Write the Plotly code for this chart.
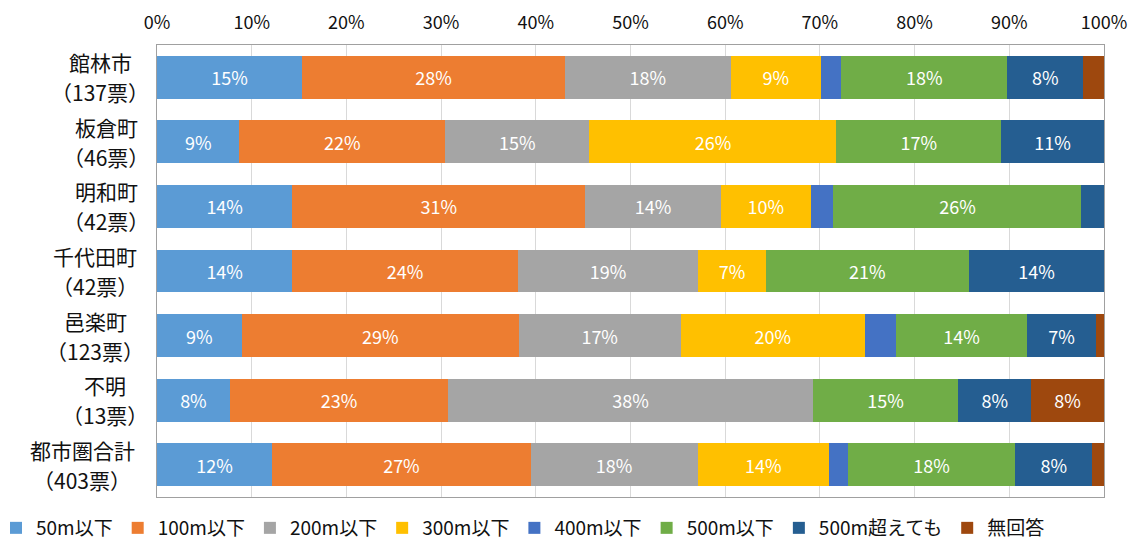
import plotly.graph_objects as go

# Categories (top to bottom) and vote counts shown in labels
areas = ["館林市", "板倉町", "明和町", "千代田町", "邑楽町", "不明", "都市圏合計"]
votes = ["137票", "46票", "42票", "42票", "123票", "13票", "403票"]

series_names = ["50m以下", "100m以下", "200m以下", "300m以下", "400m以下",
                "500m以下", "500m超えても", "無回答"]
colors = ["#5B9BD5", "#ED7D31", "#A5A5A5", "#FFC000", "#4472C4",
          "#70AD47", "#255E91", "#9E480E"]

# Percentages per series, one value per area (same order as `areas`)
s50 = [15.33, 8.70, 14.29, 14.29, 8.94, 7.69, 12.16]
s100 = [27.74, 21.74, 30.95, 23.81, 29.27, 23.08, 27.30]
s200 = [17.52, 15.22, 14.29, 19.05, 17.07, 38.46, 17.62]
s300 = [9.49, 26.09, 9.52, 7.14, 19.51, 0.0, 13.90]
s400 = [2.19, 0.0, 2.38, 0.0, 3.25, 0.0, 1.99]
s500 = [17.52, 17.39, 26.19, 21.43, 13.82, 15.38, 17.62]
s500over = [8.03, 10.87, 2.38, 14.29, 7.32, 7.69, 8.19]
s_none = [2.19, 0.0, 0.0, 0.0, 0.81, 7.69, 1.24]
series_values = [s50, s100, s200, s300, s400, s500, s500over, s_none]

x_ticks = [0, 10, 20, 30, 40, 50, 60, 70, 80, 90, 100]

# Layout geometry. The page body has an 8px margin, so the figure is
# sized to fit the 1136x541 window from (8, 8).
OFF = 8
W, H = 1136 - OFF, 541 - OFF
ML, MT = 157 - OFF, 45 - OFF
MR = W - (1104 - OFF)
MB = H - (497 - OFF)
PLOT_W = W - ML - MR
PLOT_H = H - MT - MB
label_center_px = [100, 106, 106, 95, 95, 105, 82]  # page x of each row label block centre
legend_left_px = -4       # page x of the legend box's left edge
legend_mid_px = 528       # page y of the legend row centre

FONT = "Noto Sans CJK JP"
TXT = "#111111"

fig = go.Figure()
for name, vals, col in zip(series_names, series_values, colors):
    labels = [f"{round(v)}%" if v >= 5 else "" for v in vals]
    fig.add_trace(go.Bar(
        name=name, y=areas, x=vals, orientation="h",
        marker=dict(color=col, line=dict(width=0)),
        text=labels, textposition="inside", insidetextanchor="middle",
        textfont=dict(color="white", size=18, family=FONT),
        hoverinfo="name+x",
    ))

for a, v, cx in zip(areas, votes, label_center_px):
    xp = (cx - OFF - ML) / PLOT_W
    fig.add_annotation(x=xp, xref="paper", y=a, yref="y", text=a,
                       showarrow=False, xanchor="center", yanchor="middle",
                       yshift=15, font=dict(size=21, family=FONT, color=TXT))
    fig.add_annotation(x=xp, xref="paper", y=a, yref="y", text=f"（{v}）",
                       showarrow=False, xanchor="center", yanchor="middle",
                       yshift=-15, font=dict(size=21, family=FONT, color=TXT))

fig.update_layout(
    barmode="stack",
    bargap=0.335,
    width=W, height=H,
    margin=dict(l=ML, r=MR, t=MT, b=MB, autoexpand=False),
    paper_bgcolor="white", plot_bgcolor="white",
    font=dict(family=FONT, color=TXT),
    showlegend=True,
    legend=dict(
        orientation="h",
        x=(legend_left_px - OFF - ML) / PLOT_W, xanchor="left",
        y=-(legend_mid_px - OFF - (MT + PLOT_H)) / PLOT_H, yanchor="middle",
        font=dict(size=19, family=FONT, color=TXT),
        traceorder="normal", itemwidth=30,
    ),
    xaxis=dict(
        side="top", range=[0, 100], tickvals=x_ticks,
        ticktext=[f"{t}%" for t in x_ticks],
        showgrid=True, gridcolor="#D9D9D9", gridwidth=1,
        zeroline=False, showline=True, linecolor="#A0A0A0", mirror=True,
        tickfont=dict(size=18, family=FONT, color=TXT),
        ticks="", ticklabelstandoff=8, fixedrange=True, automargin=False,
    ),
    yaxis=dict(
        autorange="reversed", showticklabels=False, ticks="",
        showline=True, linecolor="#A0A0A0", mirror=True,
        showgrid=False, zeroline=False, fixedrange=True, automargin=False,
    ),
)

fig.write_html("out.html")
